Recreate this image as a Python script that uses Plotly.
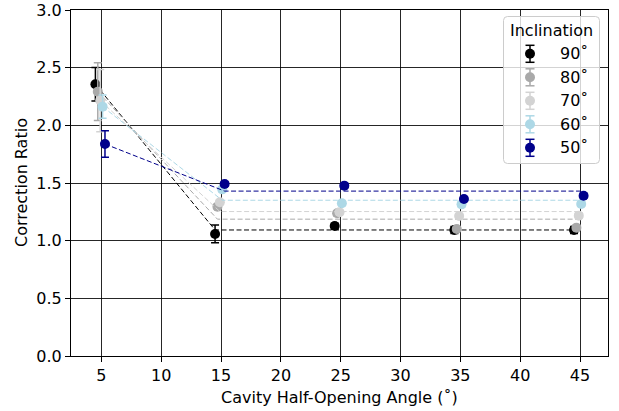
import numpy as np
import plotly.graph_objects as go

# ---- data ----
angles = [5, 15, 25, 35, 45]
inclinations = ["90˚", "80˚", "70˚", "60˚", "50˚"]
x_offsets = [-0.5, -0.3, -0.1, 0.1, 0.3]
colors = ["black", "darkgray", "lightgray", "lightblue", "darkblue"]

ratio_90 = [2.356, 1.058, 1.127, 1.093, 1.093]
ratio_80 = [2.292, 1.295, 1.237, 1.101, 1.113]
ratio_70 = [2.215, 1.333, 1.246, 1.214, 1.217]
ratio_60 = [2.162, 1.445, 1.324, 1.315, 1.318]
ratio_50 = [1.838, 1.491, 1.477, 1.361, 1.390]

err_90 = [0.145, 0.077, 0.025, 0.03, 0.03]
err_80 = [0.25, 0.02, 0.02, 0.02, 0.02]
err_70 = [0.27, 0.02, 0.02, 0.02, 0.02]
err_60 = [0.10, 0.02, 0.02, 0.02, 0.02]
err_50 = [0.115, 0.02, 0.02, 0.02, 0.02]

ratios = [ratio_90, ratio_80, ratio_70, ratio_60, ratio_50]
errors = [err_90, err_80, err_70, err_60, err_50]

# ---- layout geometry ----
W, H = 619, 411
ML, MR, MT, MB = 71, 11, 10, 55
PW, PH = W - ML - MR, H - MT - MB
FONT = "DejaVu Sans"
FS = 16


def px(xp):
    return (xp - ML) / PW


def py(yp):
    return 1 - (yp - MT) / PH


fig = go.Figure()

for name, col, off, vals, errs in zip(inclinations, colors, x_offsets, ratios, errors):
    xs = [a + off for a in angles]
    plateau = float(np.mean(vals[1:]))
    # dashed step fit
    fig.add_trace(go.Scatter(
        x=[xs[0], xs[1], xs[-1]], y=[vals[0], plateau, plateau],
        mode="lines", line=dict(color=col, width=1, dash="5px,2.5px"),
        showlegend=False, hoverinfo="skip"))
    fig.add_trace(go.Scatter(
        x=xs, y=vals, mode="markers", name=name,
        marker=dict(color=col, size=10, line=dict(width=0)),
        error_y=dict(type="data", array=errs, visible=True, color=col,
                     thickness=1.5, width=4),
        showlegend=False))

# ---- custom legend (matplotlib style) ----
shapes = []
annotations = []
bx0, bx1, by0, by1 = 503.5, 599.5, 16.5, 163.5
r = 4
path = (f"M {px(bx0+r)},{py(by0)} L {px(bx1-r)},{py(by0)} "
        f"Q {px(bx1)},{py(by0)} {px(bx1)},{py(by0+r)} "
        f"L {px(bx1)},{py(by1-r)} Q {px(bx1)},{py(by1)} {px(bx1-r)},{py(by1)} "
        f"L {px(bx0+r)},{py(by1)} Q {px(bx0)},{py(by1)} {px(bx0)},{py(by1-r)} "
        f"L {px(bx0)},{py(by0+r)} Q {px(bx0)},{py(by0)} {px(bx0+r)},{py(by0)} Z")
shapes.append(dict(type="path", xref="paper", yref="paper", path=path,
                   fillcolor="rgba(255,255,255,0.8)",
                   line=dict(color="rgba(204,204,204,1)", width=1), layer="above"))
annotations.append(dict(text="Inclination", xref="paper", yref="paper",
                        x=px(551.5), y=py(30.5), showarrow=False,
                        xanchor="center", yanchor="middle",
                        font=dict(family=FONT, size=FS, color="black")))
entry_y = [53.8, 77.3, 100.8, 124.3, 147.8]
mx = 530
for name, col, ey in zip(inclinations, colors, entry_y):
    shapes.append(dict(type="line", xref="paper", yref="paper",
                       x0=px(mx), x1=px(mx), y0=py(ey - 8.5), y1=py(ey + 8.5),
                       line=dict(color=col, width=1.5), layer="above"))
    for cy in (ey - 8.5, ey + 8.5):
        shapes.append(dict(type="line", xref="paper", yref="paper",
                           x0=px(mx - 4.5), x1=px(mx + 4.5), y0=py(cy), y1=py(cy),
                           line=dict(color=col, width=1.5), layer="above"))
    shapes.append(dict(type="circle", xref="paper", yref="paper",
                       xsizemode="pixel", ysizemode="pixel",
                       xanchor=px(mx), yanchor=py(ey),
                       x0=-5, x1=5, y0=-5, y1=5,
                       fillcolor=col, line=dict(width=0), layer="above"))
    annotations.append(dict(text=name, xref="paper", yref="paper",
                            x=px(558), y=py(ey), showarrow=False,
                            xanchor="left", yanchor="middle",
                            font=dict(family=FONT, size=FS, color="black")))

# axis titles
annotations.append(dict(text="Cavity Half-Opening Angle (˚)", xref="paper", yref="paper",
                        x=0.5, y=py(397), showarrow=False, xanchor="center",
                        yanchor="middle", font=dict(family=FONT, size=FS, color="black")))
annotations.append(dict(text="Correction Ratio", xref="paper", yref="paper",
                        x=px(21), y=0.5, showarrow=False, textangle=-90,
                        xanchor="center", yanchor="middle",
                        font=dict(family=FONT, size=FS, color="black")))

axis_common = dict(showline=True, linecolor="black", linewidth=1, mirror=True,
                   ticks="outside", ticklen=5, tickwidth=1, tickcolor="black",
                   showgrid=True, gridcolor="rgba(0,0,0,0.85)", gridwidth=1,
                   zeroline=False, automargin=False,
                   tickfont=dict(family=FONT, size=FS, color="black"))

fig.update_layout(
    width=W, height=H, autosize=False,
    margin=dict(l=ML, r=MR, t=MT, b=MB, pad=0, autoexpand=False),
    paper_bgcolor="white", plot_bgcolor="white",
    showlegend=False,
    shapes=shapes, annotations=annotations,
    xaxis=dict(range=[2.46, 47.34], tickvals=[5, 10, 15, 20, 25, 30, 35, 40, 45],
               **axis_common),
    yaxis=dict(range=[0, 3], tickvals=[0, 0.5, 1.0, 1.5, 2.0, 2.5, 3.0],
               tickformat=".1f", **axis_common),
    font=dict(family=FONT, size=FS, color="black"),
)

fig.write_html("out.html", config={"displayModeBar": False},
               post_script="document.body.style.margin='0';document.body.style.overflow='hidden';")
